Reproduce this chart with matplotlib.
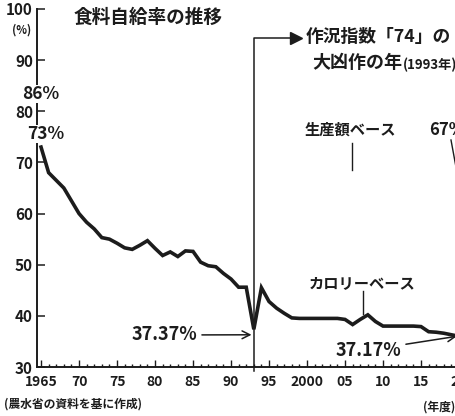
import matplotlib.pyplot as plt
from matplotlib.lines import Line2D

plt.rcParams['font.family'] = ['Noto Sans CJK JP', 'DejaVu Sans']

# calorie-based food self-sufficiency
years = list(range(1965, 2021))
calorie = [73.0, 68.0, 66.5, 65.0, 62.5, 60.0, 58.3, 57.0, 55.3, 55.0,
           54.2, 53.3, 53.0, 53.8, 54.7, 53.2, 51.8, 52.5, 51.6, 52.7,
           52.6, 50.5, 49.8, 49.6, 48.3, 47.2, 45.6, 45.6, 37.37, 45.5,
           42.8, 41.5, 40.5, 39.6, 39.5, 39.5, 39.5, 39.5, 39.5, 39.5,
           39.3, 38.3, 39.3, 40.2, 38.9, 38.0, 38.0, 38.0, 38.0, 38.0,
           37.9, 36.9, 36.8, 36.6, 36.3, 36.0]
yticks = [30, 40, 50, 60, 70, 80, 90, 100]
xticks = [1965, 1970, 1975, 1980, 1985, 1990, 1995, 2000, 2005, 2010, 2015, 2020]
xlabels = ['1965', '70', '75', '80', '85', '90', '95', '2000', '05', '10', '15', '20']

W, H = 456, 416
ink = '#1c1c1c'


def fx(px):
    return px / W


def fy(py):
    return 1 - py / H


fig = plt.figure(figsize=(W / 100, H / 100), dpi=100)
ax = fig.add_axes([37 / W, 49 / H, 56.53 * 7.6 / W, 358 / H])
ax.set_xlim(1964.47, 2021)
ax.set_ylim(30, 100)

ax.plot(years, calorie, color=ink, linewidth=2.6, solid_joinstyle='miter')

for s in ['top', 'right']:
    ax.spines[s].set_visible(False)
for s in ['left', 'bottom']:
    ax.spines[s].set_linewidth(1.4)
    ax.spines[s].set_color(ink)

ax.set_yticks(yticks)
ax.set_yticklabels([str(v) for v in yticks])
ax.set_xticks(xticks)
ax.set_xticklabels(xlabels)
ax.set_xticks(years, minor=True)
ax.tick_params(axis='y', direction='in', length=6, width=1.1, pad=3,
               labelsize=11, colors=ink)
ax.tick_params(axis='x', which='major', direction='in', length=5, width=1,
               pad=6, labelsize=10, colors=ink)
ax.tick_params(axis='x', which='minor', direction='in', length=2.4, width=1,
               colors=ink)
for lab in ax.get_xticklabels() + ax.get_yticklabels():
    lab.set_fontweight('bold')

# 1993 marker line with elbow to the note
top = 94.3
ax.plot([1993, 1993, 1998.6], [29.2, top, top], color=ink, linewidth=1.1,
        clip_on=False)
ax.plot([1998.6], [top], marker='>', color=ink, markersize=8, clip_on=False)

white = dict(facecolor='white', edgecolor='none', pad=0.2)

fig.text(fx(74), fy(17), '食料自給率の推移', fontsize=13.4, fontweight='bold',
         ha='left', va='center', color=ink)
fig.text(fx(22), fy(30), '(%)', fontsize=8, fontweight='bold', ha='center',
         va='center', color=ink)
fig.text(fx(22), fy(94), '86%', fontsize=12.5, fontweight='bold', ha='left',
         va='center', color=ink, bbox=white, zorder=5)
fig.text(fx(27), fy(134), '73%', fontsize=12.5, fontweight='bold', ha='left',
         va='center', color=ink, bbox=white, zorder=5)
fig.text(fx(306), fy(37), '作況指数「74」の', fontsize=12.8, fontweight='bold',
         ha='left', va='center', color=ink)
fig.text(fx(312), fy(63), '大凶作の年', fontsize=13, fontweight='bold',
         ha='left', va='center', color=ink)
fig.text(fx(403), fy(65), '(1993年)', fontsize=9.5, fontweight='bold',
         ha='left', va='center', color=ink)

fig.text(fx(305), fy(130), '生産額ベース', fontsize=11, fontweight='bold',
         ha='left', va='center', color=ink)
fig.add_artist(Line2D([fx(352), fx(352)], [fy(143), fy(170)], color=ink,
                      linewidth=1))
fig.text(fx(429), fy(130), '67%', fontsize=12, fontweight='bold', ha='left',
         va='center', color=ink)
fig.add_artist(Line2D([fx(451), fx(458)], [fy(140), fy(178)], color=ink,
                      linewidth=1))

fig.text(fx(309), fy(283), 'カロリーベース', fontsize=11, fontweight='bold',
         ha='left', va='center', color=ink)
fig.add_artist(Line2D([fx(363), fx(363)], [fy(291), fy(314)], color=ink,
                      linewidth=1))

ax.annotate('37.37%', xy=(1992.7, 36.3), xytext=(fx(132), fy(335)),
            textcoords='figure fraction', fontsize=13, fontweight='bold',
            ha='left', va='center', color=ink,
            arrowprops=dict(arrowstyle='->', color=ink, lw=1.1,
                            shrinkA=1, shrinkB=0, mutation_scale=14))
ax.annotate('37.17%', xy=(2019.7, 36.0), xytext=(fx(336), fy(350)),
            textcoords='figure fraction', fontsize=13, fontweight='bold',
            ha='left', va='center', color=ink, annotation_clip=False,
            arrowprops=dict(arrowstyle='->', color=ink, lw=1.1,
                            shrinkA=1, shrinkB=0, mutation_scale=14))

fig.text(fx(4), fy(404), '(農水省の資料を基に作成)', fontsize=8.5,
         fontweight='bold', ha='left', va='center', color=ink)
fig.text(fx(455), fy(407), '(年度)', fontsize=8.5, fontweight='bold',
         ha='right', va='center', color=ink)

fig.savefig('out.png', dpi=100)
